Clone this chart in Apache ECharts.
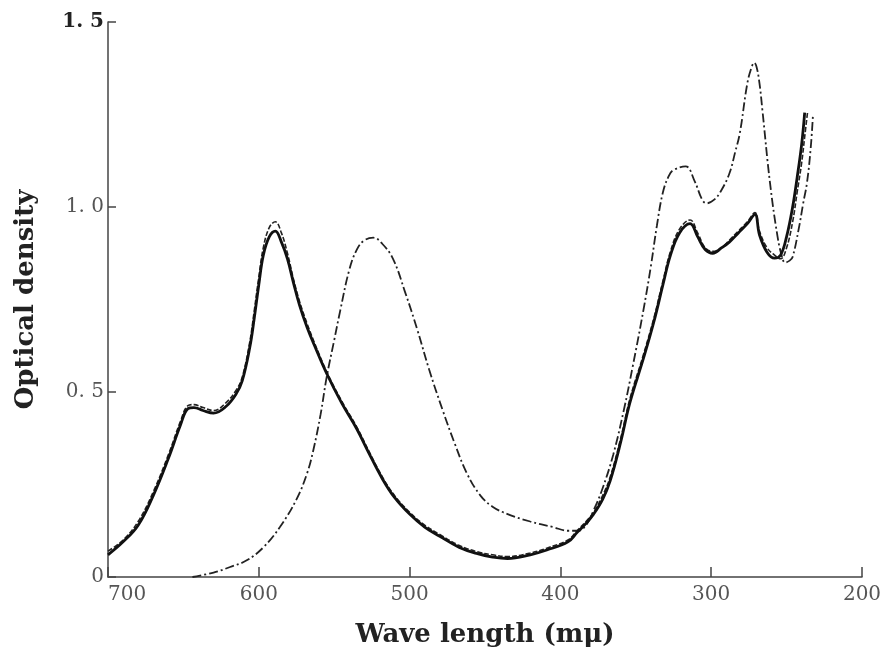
<!DOCTYPE html>
<html>
<head>
<meta charset="utf-8">
<script src="https://cdn.jsdelivr.net/npm/echarts@6/dist/echarts.min.js"></script>
<style>html,body{margin:0;padding:0;background:#fff;}#c{width:888px;height:655px;}</style>
</head>
<body>
<div id="c"></div>
<script>
// Wavelength (mμ) and optical density
const solidWave = [700,690,680,670,660,652,647,643,637,630,622,615,611,606,603,600,597,593,589,585,581,577,573,568,563,555,545,535,527,518,510,500,490,480,467,455,445,435,420,409,395,389,383,378,372,367,360,354,345,338,332,327,321,314,309,304,299,293,288,282,276,271,268,263,258,254,250,246,243,240,238];
const solidOD   = [0.06,0.095,0.14,0.22,0.32,0.41,0.455,0.458,0.45,0.443,0.46,0.495,0.53,0.62,0.70,0.79,0.87,0.92,0.935,0.905,0.86,0.795,0.735,0.675,0.625,0.55,0.47,0.40,0.335,0.265,0.215,0.17,0.135,0.11,0.08,0.063,0.054,0.05,0.06,0.073,0.095,0.12,0.145,0.17,0.21,0.26,0.365,0.47,0.59,0.69,0.79,0.87,0.93,0.955,0.92,0.885,0.875,0.89,0.905,0.93,0.955,0.98,0.925,0.878,0.862,0.87,0.92,1.0,1.08,1.17,1.255];

const dashWave = [700,690,680,670,660,652,647,643,637,630,622,615,611,606,603,600,597,593,589,585,581,577,573,568,563,555,545,535,527,518,510,500,490,480,467,455,445,435,420,409,395,389,383,378,372,367,360,354,345,338,332,327,321,314,309,304,299,293,288,282,276,271,268,263,258,254,250,246,243,240,238,236];
const dashOD   = [0.07,0.10,0.15,0.23,0.33,0.42,0.463,0.466,0.458,0.45,0.47,0.505,0.54,0.635,0.72,0.81,0.89,0.945,0.96,0.93,0.875,0.805,0.745,0.685,0.632,0.555,0.475,0.405,0.34,0.27,0.22,0.175,0.14,0.115,0.085,0.068,0.06,0.055,0.065,0.078,0.10,0.125,0.15,0.175,0.22,0.27,0.375,0.48,0.60,0.70,0.80,0.88,0.94,0.965,0.93,0.89,0.88,0.89,0.91,0.935,0.96,0.985,0.935,0.89,0.87,0.86,0.89,0.96,1.04,1.12,1.19,1.26];

const dashDotWave = [644,630,619,608,597,586,575,568,564,559,555,550,546,540,535,530,524,518,511,503,495,487,478,470,462,453,445,435,420,405,395,388,383,378,372,365,358,352,345,340,336,332,328,325,317,311,306,303,298,294,288,284,281,276,273,271.5,270,268,266,261,256,253,251,248,246,242,239,236.5,234,232.5];
const dashDotOD   = [0.0,0.012,0.027,0.045,0.08,0.135,0.21,0.28,0.34,0.44,0.54,0.64,0.72,0.83,0.885,0.91,0.917,0.90,0.86,0.77,0.67,0.56,0.45,0.36,0.28,0.22,0.19,0.17,0.15,0.135,0.125,0.125,0.14,0.18,0.24,0.33,0.45,0.57,0.72,0.84,0.95,1.04,1.085,1.10,1.11,1.07,1.02,1.01,1.02,1.04,1.09,1.15,1.20,1.335,1.38,1.39,1.38,1.335,1.26,1.065,0.92,0.865,0.85,0.855,0.865,0.94,1.01,1.065,1.16,1.25];

const xTicks = [700,600,500,400,300,200];
const yTicks = [0,0.5,1.0,1.5];
const yTickText = ['0','0. 5','1. 0','1. 5'];

function pairs(xs, ys){ return xs.map((x,i)=>[x, ys[i]]); }

const serif = '"DejaVu Serif","Liberation Serif",serif';
const chart = echarts.init(document.getElementById('c'), null, {renderer:'canvas'});
chart.setOption({
  backgroundColor:'#fff',
  animation:false,
  grid:{left:108, right:26, top:22, bottom:78, containLabel:false},
  xAxis:{
    type:'value', min:200, max:700, interval:100, inverse:true,
    name:'Wave length (mμ)', nameLocation:'middle', nameGap:45,
    nameTextStyle:{fontFamily:serif, fontSize:26, fontWeight:'bold', color:'#222'},
    axisLine:{show:true, lineStyle:{color:'#444', width:1.5}},
    axisTick:{show:true, inside:true, length:10, lineStyle:{color:'#444', width:1.5}},
    axisLabel:{fontFamily:serif, fontSize:20, color:'#555', margin:8, alignMaxLabel:'left',
      formatter:v=> xTicks.indexOf(v)>=0 ? String(v) : ''},
    splitLine:{show:false}
  },
  yAxis:{
    type:'value', min:0, max:1.5, interval:0.5,
    name:'Optical density', nameLocation:'middle', nameGap:69, nameRotate:90,
    nameTextStyle:{fontFamily:serif, fontSize:26, fontWeight:'bold', color:'#222'},
    axisLine:{show:true, lineStyle:{color:'#444', width:1.5}},
    axisTick:{show:true, inside:true, length:8, lineStyle:{color:'#444', width:1.5}},
    axisLabel:{fontFamily:serif, fontSize:20, color:'#555', margin:4,
      formatter:v=>{ const i = yTicks.findIndex(t=>Math.abs(t-v)<1e-6); if(i<0) return ''; return i===3 ? '{b|'+yTickText[i]+'}' : yTickText[i]; },
      rich:{b:{fontFamily:serif, fontSize:20, fontWeight:'bold', color:'#222'}}},
    splitLine:{show:false}
  },
  series:[
    {type:'line', data:pairs(dashDotWave, dashDotOD), smooth:0.4, showSymbol:false,
     lineStyle:{color:'#222', width:1.8, type:[9,3,2,3]}},
    {type:'line', data:pairs(dashWave, dashOD), smooth:0.4, showSymbol:false,
     lineStyle:{color:'#222', width:1.6, type:[5,2]}},
    {type:'line', data:pairs(solidWave, solidOD), smooth:0.4, showSymbol:false,
     lineStyle:{color:'#111', width:2.8}}
  ]
});
</script>
</body>
</html>
